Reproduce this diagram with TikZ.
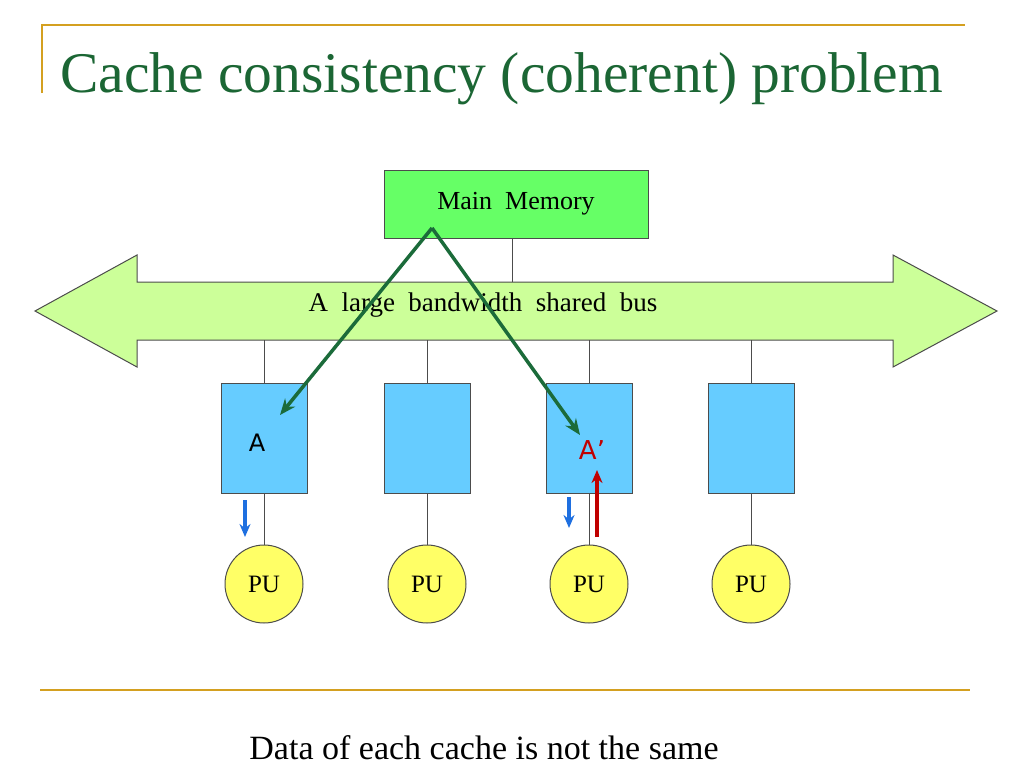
\documentclass[tikz,border=0pt]{standalone}
\usepackage{fontspec}
\setmainfont{Liberation Serif}
\setsansfont{DejaVu Sans}
\usetikzlibrary{arrows.meta}
\definecolor{gold}{HTML}{D4A020}
\definecolor{titlegreen}{HTML}{1B6634}
\definecolor{memgreen}{HTML}{66FF66}
\definecolor{busgreen}{HTML}{CCFF99}
\definecolor{cacheblue}{HTML}{66CCFF}
\definecolor{puyellow}{HTML}{FFFF66}
\definecolor{arrgreen}{HTML}{1B6B3A}
\definecolor{arrblue}{HTML}{1E6FE0}
\definecolor{arrred}{HTML}{C00000}
\tikzset{
 cachebox/.style={draw=black!70,fill=cacheblue,minimum width=86pt,minimum height=110pt,inner sep=0},
 pu/.style={circle,draw=black!70,fill=puyellow,minimum size=78pt,inner sep=0,font=\fontsize{25}{25}\selectfont},
 wire/.style={draw=black!70,line width=1pt},
 ga/.style={draw=arrgreen,line width=3.5pt,-{Stealth[length=16pt,width=13pt]}},
 small/.style={line width=3.5pt,-{Stealth[length=13pt,width=11pt]}}
}
\begin{document}
\begin{tikzpicture}[x=1pt,y=-1pt]
\useasboundingbox (0,0) rectangle (1024,768);
\draw[gold,line width=2pt] (42,93) -- (42,25) -- (965,25);
\node[anchor=base west,text=titlegreen,font=\fontsize{57.5}{57.5}\selectfont,inner sep=0] (title) at (60,92) {Cache consistency (coherent) problem};
% bus
\draw[draw=black!70,fill=busgreen,line width=1pt] (35,311) -- (137,255) -- (137,282) -- (893,282) -- (893,255) -- (997,311) -- (893,367) -- (893,340) -- (137,340) -- (137,367) -- cycle;
\node[font=\fontsize{27}{27}\selectfont] (bus) at (483,305) {A\ \ large\ \ bandwidth\ \ shared\ \ bus};
\node[draw=black!70,fill=memgreen,minimum width=264pt,minimum height=68pt,font=\fontsize{26}{26}\selectfont,line width=1pt] (mem) at (516,204) {Main\ \ Memory};
\coordinate (bustop) at (512,282);
\draw[wire] (mem.south -| bustop) -- (bustop);
\foreach \i/\x in {1/264,2/427,3/589,4/751}{
 \node[cachebox,line width=1pt] (c\i) at (\x,438) {};
 \node[pu,line width=1pt] (p\i) at (\x,584) {PU};
 \coordinate (b\i) at (\x,340);
 \draw[wire] (b\i) -- (c\i.north);
 \draw[wire] (c\i.south) -- (p\i.north);
}
\node[font=\sffamily\fontsize{24}{24}\selectfont] (a) at (257,443) {A};
\node[font=\sffamily\fontsize{26}{26}\selectfont,text=arrred] (a2) at (592,450) {A’};
\coordinate (src) at (432,228);
\path[ga] (src) -- (280,415);
\path[ga] (src) -- (580,435);
\coordinate (bl1) at (245,500); \coordinate (bl1e) at (245,537);
\draw[small,arrblue] (bl1) -- (bl1e);
\coordinate (bl2) at (569,497); \coordinate (bl2e) at (569,528);
\draw[small,arrblue] (bl2) -- (bl2e);
\coordinate (r1) at (597,537); \coordinate (r1e) at (597,470);
\draw[small,arrred] (r1) -- (r1e);
\draw[gold,line width=2pt] (40,690) -- (970,690);
\node[font=\fontsize{34}{34}\selectfont] (cap) at (484,748) {Data of each cache is not the same};
\end{tikzpicture}
\end{document}
